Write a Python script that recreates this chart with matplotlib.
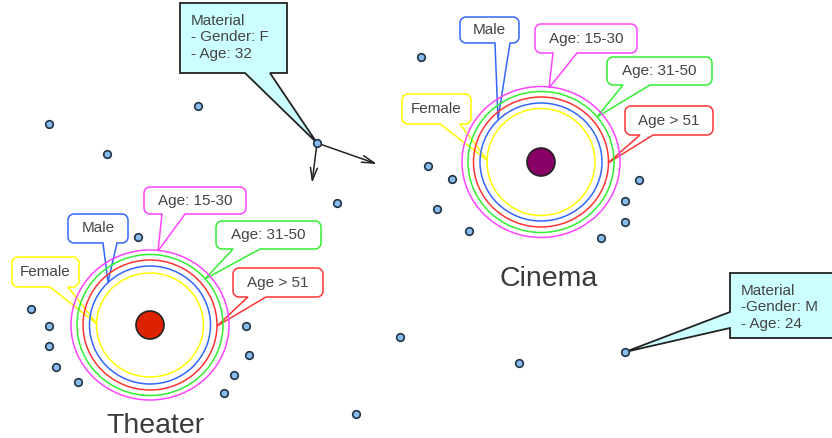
import numpy as np
import matplotlib
matplotlib.use("Agg")
import matplotlib.pyplot as plt
from matplotlib.patches import Polygon, Ellipse, Circle

plt.rcParams['font.family'] = ['Liberation Sans', 'DejaVu Sans']

# canvas is laid out in pixel units (y grows downward)
W, H = 832, 438

# venues: name, centre, centre dot colour, label position
venues = ["Theater", "Cinema"]
venue_xy = [(150, 325), (541, 162)]
venue_dot = ["#dd2200", "#880066"]
venue_label_xy = [(155, 426), (549, 279)]

# rings around each venue (inner -> outer)
ring_names = ["Female", "Male", "Age > 51", "Age: 31-50", "Age: 15-30"]
ring_colors = ["#ffff00", "#3366ff", "#ff3333", "#33ee33", "#ff44ff"]
ring_w = [[107, 121, 134, 146, 158], [108, 122, 135, 146, 158]]
ring_h = [[104, 118, 130, 141, 150], [107, 118, 130, 141, 151]]

# speech bubbles per venue: label, box (x0, y0, x1, y1), tail base (a, b), tip
bubble_labels = ["Female", "Male", "Age: 15-30", "Age: 31-50", "Age > 51"]
bubble_colors = ["#ffff00", "#3366ff", "#ff44ff", "#33ee33", "#ff3333"]
bubble_boxes = [
    [(12, 257, 79, 287), (68, 214, 128, 243), (144, 187, 246, 214),
     (216, 221, 321, 249), (233, 268, 323, 297)],
    [(402, 94, 471, 124), (460, 17, 519, 43), (535, 24, 637, 53),
     (607, 57, 712, 85), (625, 106, 713, 135)],
]
bubble_base = [
    [(50, 68), (103, 117), (162, 185), (233, 260), (248, 266)],
    [(440, 460), (495, 510), (553, 577), (623, 650), (640, 653)],
]
bubble_tip = [
    [(97, 324), (108, 282), (158, 251), (205, 279), (217, 326)],
    [(487, 160), (498, 119), (549, 88), (597, 117), (608, 163)],
]

# scattered people (dots)
dot_x = [49, 198, 107, 337, 421, 138, 31, 49, 49, 56, 78, 246, 249, 234, 224,
         400, 356, 428, 452, 437, 469, 639, 625, 625, 601, 519, 317, 625]
dot_y = [124, 106, 154, 203, 57, 237, 309, 326, 346, 367, 382, 326, 355, 375, 393,
         337, 414, 166, 179, 209, 231, 180, 201, 222, 238, 363, 143, 352]

# material callouts
mat_text = ["Material\n- Gender: F\n- Age: 32", "Material\n-Gender: M\n- Age: 24"]
mat_box = [(180, 3, 287, 73), (730, 273, 845, 338)]
mat_side = ["bottom", "left"]
mat_base = [(245, 270), (312, 328)]
mat_tip = [(317, 143), (625, 352)]
arrow_ends = [(312, 183), (377, 164)]


def bubble_pts(x0, y0, x1, y1, r, side, base, tip):
    def arc(cx, cy, t0, t1):
        t = np.radians(np.linspace(t0, t1, 8))
        return list(zip(cx + r * np.cos(t), cy + r * np.sin(t)))
    pts = []
    pts += arc(x0 + r, y0 + r, 180, 270)
    pts += arc(x1 - r, y0 + r, 270, 360)
    pts += arc(x1 - r, y1 - r, 0, 90)
    if side == "bottom":
        pts += [(base[1], y1), tip, (base[0], y1)]
    pts += arc(x0 + r, y1 - r, 90, 180)
    if side == "left":
        pts += [(x0, base[1]), tip, (x0, base[0])]
    return pts


fig = plt.figure(figsize=(W / 100, H / 100), dpi=100)
ax = fig.add_axes([0, 0, 1, 1])
ax.set_xlim(0, W)
ax.set_ylim(H, 0)
ax.axis("off")

for v in range(len(venues)):
    cx, cy = venue_xy[v]
    for i in range(len(ring_names)):
        ax.add_patch(Ellipse((cx, cy), ring_w[v][i], ring_h[v][i], fill=False,
                             ec=ring_colors[i], lw=1.1, zorder=3))
    ax.add_patch(Circle((cx, cy), 14, fc=venue_dot[v], ec="#222222", lw=1.2, zorder=4))
    ax.text(*venue_label_xy[v], venues[v], fontsize=20.5, color="#3a3a3a",
            ha="center", va="center")
    for i in range(len(bubble_labels)):
        x0, y0, x1, y1 = bubble_boxes[v][i]
        pts = bubble_pts(x0, y0, x1, y1, 6, "bottom", bubble_base[v][i], bubble_tip[v][i])
        ax.add_patch(Polygon(pts, closed=True, fc="white", ec=bubble_colors[i],
                             lw=1.1, zorder=2))
        ax.text((x0 + x1) / 2, (y0 + y1) / 2, bubble_labels[i], fontsize=11,
                color="#444444", ha="center", va="center", zorder=5)

for i in range(len(mat_text)):
    x0, y0, x1, y1 = mat_box[i]
    pts = bubble_pts(x0, y0, x1, y1, 0, mat_side[i], mat_base[i], mat_tip[i])
    ax.add_patch(Polygon(pts, closed=True, fc="#ccffff", ec="#222222", lw=1.3, zorder=5))
    ax.text(x0 + 11, y0 + 11, mat_text[i], fontsize=11, color="#444444",
            ha="left", va="top", linespacing=1.22, zorder=6)

for end in arrow_ends:
    ax.annotate("", xy=end, xytext=mat_tip[0],
                arrowprops=dict(arrowstyle="->,head_length=0.9,head_width=0.25",
                                color="#222222", lw=1.1, shrinkA=0, shrinkB=0),
                zorder=6)

ax.scatter(dot_x, dot_y, s=30, c="#88bbee", edgecolors="#223344", linewidths=1.2,
           zorder=7)

fig.savefig("out.png", dpi=100)
